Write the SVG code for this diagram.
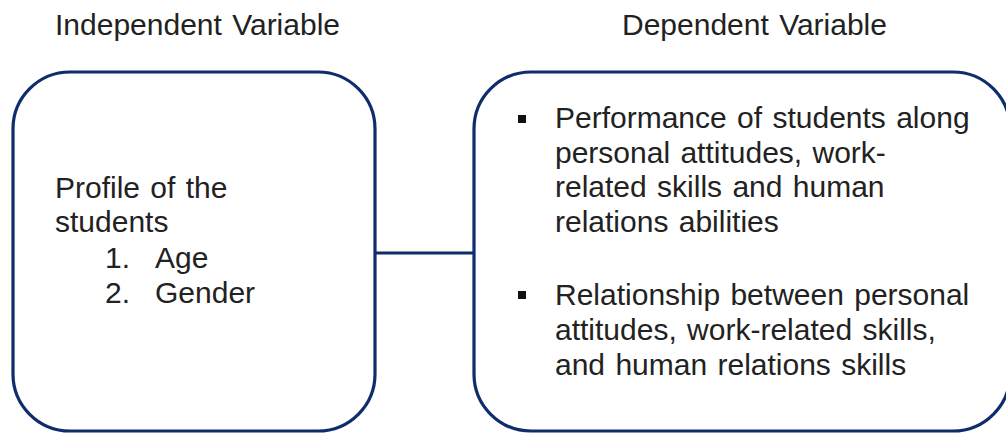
<svg xmlns="http://www.w3.org/2000/svg" width="1006" height="433" viewBox="0 0 1006 433">
  <style>
    .box { fill: #ffffff; stroke: #0f2c6c; stroke-width: 3.2; }
    .link { stroke: #0f2c6c; stroke-width: 3; fill: none; }
    .t { font-family: "Liberation Sans", Arial, sans-serif; font-size: 30px; word-spacing: 2px; fill: #222222; }
    .bullet { fill: #111111; }
  </style>
  <rect width="1006" height="433" fill="#ffffff"/>

  <!-- column headings -->
  <text class="t" x="55" y="35">Independent Variable</text>
  <text class="t" x="622" y="35">Dependent Variable</text>

  <!-- connector between the two boxes -->
  <g id="connectors">
    <line class="link" x1="375" y1="253" x2="474" y2="253"/>
  </g>

  <!-- independent variable box -->
  <g id="independent">
    <rect class="box" x="13" y="72" width="362" height="359" rx="57" ry="57"/>
    <text class="t" x="55" y="198">Profile of the</text>
    <text class="t" x="55" y="232">students</text>
    <text class="t" x="105" y="268">1.</text>
    <text class="t" x="155" y="268">Age</text>
    <text class="t" x="105" y="303">2.</text>
    <text class="t" x="155" y="303">Gender</text>
  </g>

  <!-- dependent variable box -->
  <g id="dependent">
    <rect class="box" x="474" y="72" width="536" height="359" rx="57" ry="57"/>
    <rect class="bullet" x="518" y="115" width="8" height="8"/>
    <text class="t" x="555" y="128">Performance of students along</text>
    <text class="t" x="555" y="163">personal attitudes, work-</text>
    <text class="t" x="555" y="197">related skills and human</text>
    <text class="t" x="555" y="232">relations abilities</text>
    <rect class="bullet" x="518" y="291" width="8" height="8"/>
    <text class="t" x="555" y="305">Relationship between personal</text>
    <text class="t" x="555" y="340">attitudes, work-related skills,</text>
    <text class="t" x="555" y="375">and human relations skills</text>
  </g>
</svg>
